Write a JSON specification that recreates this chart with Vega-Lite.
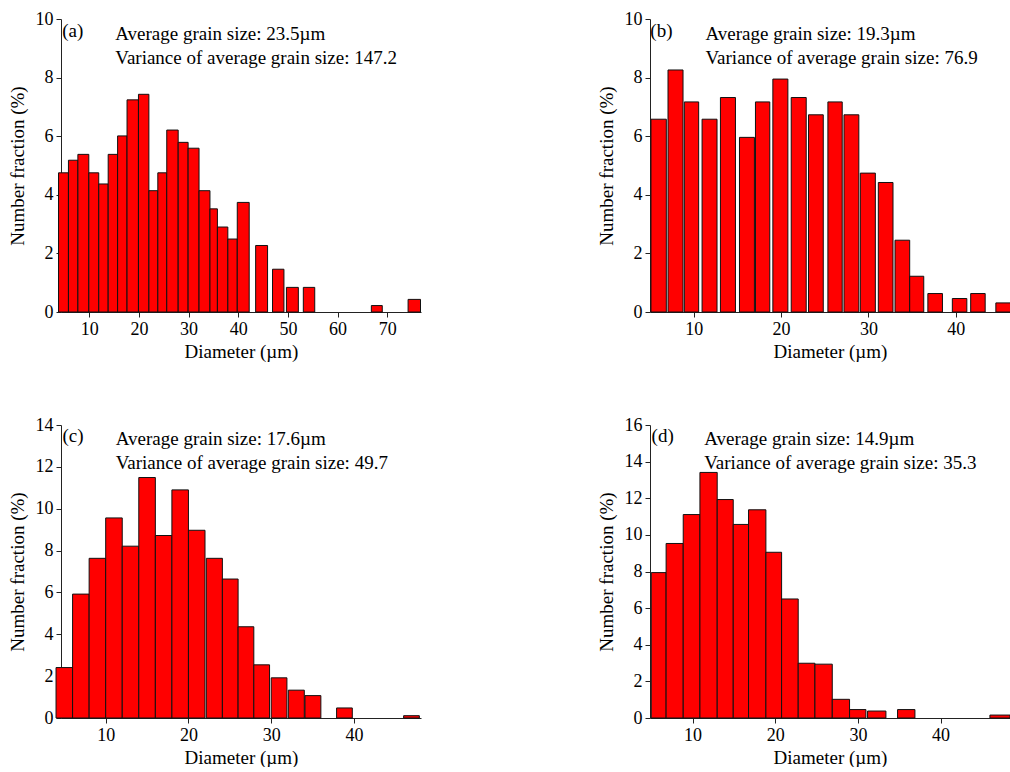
{
  "$schema": "https://vega.github.io/schema/vega-lite/v6.json",
  "padding": {"left": 8, "top": 10, "right": 0, "bottom": 0},
  "background": "white",
  "datasets": {
    "a": [
      {"x0": 3.8, "x1": 5.8, "pct": 4.75},
      {"x0": 5.8, "x1": 7.7, "pct": 5.18},
      {"x0": 7.7, "x1": 9.9, "pct": 5.38},
      {"x0": 9.9, "x1": 11.9, "pct": 4.75},
      {"x0": 11.9, "x1": 13.8, "pct": 4.37},
      {"x0": 13.8, "x1": 15.7, "pct": 5.38},
      {"x0": 15.7, "x1": 17.6, "pct": 6.01},
      {"x0": 17.6, "x1": 19.9, "pct": 7.24},
      {"x0": 19.9, "x1": 22.0, "pct": 7.43},
      {"x0": 22.0, "x1": 23.8, "pct": 4.14},
      {"x0": 23.8, "x1": 25.6, "pct": 4.75},
      {"x0": 25.6, "x1": 27.9, "pct": 6.21},
      {"x0": 27.9, "x1": 29.9, "pct": 5.79},
      {"x0": 29.9, "x1": 32.1, "pct": 5.59},
      {"x0": 32.1, "x1": 34.3, "pct": 4.14},
      {"x0": 34.3, "x1": 35.8, "pct": 3.52},
      {"x0": 35.8, "x1": 37.9, "pct": 2.90},
      {"x0": 37.9, "x1": 39.8, "pct": 2.49},
      {"x0": 39.8, "x1": 42.2, "pct": 3.74},
      {"x0": 43.5, "x1": 45.9, "pct": 2.27},
      {"x0": 46.9, "x1": 49.2, "pct": 1.46},
      {"x0": 49.7, "x1": 52.1, "pct": 0.84},
      {"x0": 53.1, "x1": 55.4, "pct": 0.84},
      {"x0": 66.8, "x1": 69.0, "pct": 0.22},
      {"x0": 74.2, "x1": 76.7, "pct": 0.43}
    ],
    "b": [
      {"x0": 5.11, "x1": 6.87, "pct": 6.58},
      {"x0": 7.06, "x1": 8.78, "pct": 8.26},
      {"x0": 8.93, "x1": 10.57, "pct": 7.17},
      {"x0": 10.96, "x1": 12.67, "pct": 6.58},
      {"x0": 13.06, "x1": 14.78, "pct": 7.32},
      {"x0": 15.24, "x1": 16.95, "pct": 5.96},
      {"x0": 17.07, "x1": 18.71, "pct": 7.17},
      {"x0": 19.06, "x1": 20.78, "pct": 7.95},
      {"x0": 21.16, "x1": 22.88, "pct": 7.32},
      {"x0": 23.14, "x1": 24.83, "pct": 6.73},
      {"x0": 25.36, "x1": 27.0, "pct": 7.17},
      {"x0": 27.2, "x1": 28.9, "pct": 6.73},
      {"x0": 29.07, "x1": 30.79, "pct": 4.74},
      {"x0": 31.13, "x1": 32.81, "pct": 4.42},
      {"x0": 33.04, "x1": 34.72, "pct": 2.45},
      {"x0": 34.72, "x1": 36.33, "pct": 1.22},
      {"x0": 36.8, "x1": 38.47, "pct": 0.63},
      {"x0": 39.6, "x1": 41.26, "pct": 0.46},
      {"x0": 41.7, "x1": 43.36, "pct": 0.63},
      {"x0": 44.58, "x1": 46.3, "pct": 0.31}
    ],
    "c": [
      {"x0": 4.0, "x1": 6.0, "pct": 2.41},
      {"x0": 6.0, "x1": 8.0, "pct": 5.92},
      {"x0": 8.0, "x1": 10.0, "pct": 7.63},
      {"x0": 10.0, "x1": 12.0, "pct": 9.56},
      {"x0": 12.0, "x1": 14.0, "pct": 8.21},
      {"x0": 14.0, "x1": 16.0, "pct": 11.49},
      {"x0": 16.0, "x1": 18.0, "pct": 8.72},
      {"x0": 18.0, "x1": 20.0, "pct": 10.9},
      {"x0": 20.0, "x1": 22.0, "pct": 8.97},
      {"x0": 22.16, "x1": 24.1, "pct": 7.63},
      {"x0": 24.1, "x1": 26.0, "pct": 6.64},
      {"x0": 26.0, "x1": 27.9, "pct": 4.36},
      {"x0": 27.9, "x1": 29.8, "pct": 2.54},
      {"x0": 30.0, "x1": 31.9, "pct": 1.92},
      {"x0": 32.07, "x1": 34.0, "pct": 1.33},
      {"x0": 34.08, "x1": 36.0, "pct": 1.07},
      {"x0": 37.9, "x1": 39.8, "pct": 0.48},
      {"x0": 46.0, "x1": 47.9, "pct": 0.11}
    ],
    "d": [
      {"x0": 5.0, "x1": 6.8, "pct": 7.94},
      {"x0": 6.8, "x1": 8.87, "pct": 9.53},
      {"x0": 8.87, "x1": 10.89, "pct": 11.11},
      {"x0": 10.89, "x1": 12.98, "pct": 13.41},
      {"x0": 12.98, "x1": 14.92, "pct": 11.93},
      {"x0": 14.92, "x1": 16.77, "pct": 10.57},
      {"x0": 16.77, "x1": 18.87, "pct": 11.37},
      {"x0": 18.87, "x1": 20.77, "pct": 9.05},
      {"x0": 20.77, "x1": 22.78, "pct": 6.5},
      {"x0": 22.78, "x1": 24.8, "pct": 2.99},
      {"x0": 24.8, "x1": 26.9, "pct": 2.94},
      {"x0": 26.9, "x1": 28.99, "pct": 1.02},
      {"x0": 28.99, "x1": 30.97, "pct": 0.46},
      {"x0": 31.17, "x1": 33.39, "pct": 0.38},
      {"x0": 34.8, "x1": 36.9, "pct": 0.46},
      {"x0": 45.97, "x1": 48.4, "pct": 0.16}
    ],
    "ta": [
      {"x": 4.56, "y": 9.4, "label": "(a)"},
      {"x": 15.23, "y": 9.3, "label": "Average grain size: 23.5µm"},
      {"x": 15.23, "y": 8.46, "label": "Variance of average grain size: 147.2"}
    ],
    "tb": [
      {"x": 5.04, "y": 9.4, "label": "(b)"},
      {"x": 11.35, "y": 9.3, "label": "Average grain size: 19.3µm"},
      {"x": 11.35, "y": 8.46, "label": "Variance of average grain size: 76.9"}
    ],
    "tc": [
      {"x": 4.77, "y": 13.2, "label": "(c)"},
      {"x": 11.21, "y": 13.04, "label": "Average grain size: 17.6µm"},
      {"x": 11.21, "y": 11.88, "label": "Variance of average grain size: 49.7"}
    ],
    "td": [
      {"x": 5.04, "y": 15.08, "label": "(d)"},
      {"x": 11.41, "y": 14.9, "label": "Average grain size: 14.9µm"},
      {"x": 11.41, "y": 13.57, "label": "Variance of average grain size: 35.3"}
    ]
  },
  "config": {
    "view": {"stroke": null},
    "font": "Liberation Serif, Times New Roman, serif",
    "axis": {
      "grid": false,
      "labelFont": "Liberation Serif, Times New Roman, serif",
      "labelFontSize": 18,
      "labelColor": "#000",
      "labelOverlap": false,
      "titleFont": "Liberation Serif, Times New Roman, serif",
      "titleFontSize": 19,
      "titleFontWeight": "normal",
      "titleColor": "#000",
      "domainColor": "#222",
      "tickColor": "#222",
      "tickSize": 5,
      "labelPadding": 3,
      "tickCount": 12
    },
    "axisY": {"titlePadding": 8},
    "axisX": {"titlePadding": 4},
    "text": {"font": "Liberation Serif, Times New Roman, serif", "fontSize": 19, "color": "#000", "align": "left", "baseline": "alphabetic"},
    "bar": {"fill": "#ff0000", "stroke": "#111", "strokeWidth": 1, "clip": true}
  },
  "columns": 2,
  "spacing": {"row": 113, "column": 229},
  "bounds": "flush",
  "concat": [
    {
      "width": 360, "height": 293,
      "layer": [
        {
          "data": {"name": "a"},
          "mark": {"type": "bar"},
          "encoding": {
            "x": {"field": "x0", "type": "quantitative", "scale": {"domain": [4.3, 76.8], "nice": false, "zero": false}, "axis": {"title": "Diameter (µm)", "values": [10, 20, 30, 40, 50, 60, 70], "labelOverlap": false}},
            "x2": {"field": "x1"},
            "y": {"field": "pct", "type": "quantitative", "scale": {"domain": [0, 10], "nice": false}, "axis": {"title": "Number fraction (%)", "values": [0, 2, 4, 6, 8, 10], "labelOverlap": false}},
            "y2": {"datum": 0}
          }
        },
        {
          "data": {"name": "ta"},
          "mark": {"type": "text"},
          "encoding": {
            "x": {"field": "x", "type": "quantitative"},
            "y": {"field": "y", "type": "quantitative"},
            "text": {"field": "label"}
          }
        }
      ]
    },
    {
      "width": 360, "height": 293,
      "layer": [
        {
          "data": {"name": "b"},
          "mark": {"type": "bar"},
          "encoding": {
            "x": {"field": "x0", "type": "quantitative", "scale": {"domain": [5, 46.2], "nice": false, "zero": false}, "axis": {"title": "Diameter (µm)", "values": [10, 20, 30, 40], "labelOverlap": false}},
            "x2": {"field": "x1"},
            "y": {"field": "pct", "type": "quantitative", "scale": {"domain": [0, 10], "nice": false}, "axis": {"title": "Number fraction (%)", "values": [0, 2, 4, 6, 8, 10], "labelOverlap": false}},
            "y2": {"datum": 0}
          }
        },
        {
          "data": {"name": "tb"},
          "mark": {"type": "text"},
          "encoding": {
            "x": {"field": "x", "type": "quantitative"},
            "y": {"field": "y", "type": "quantitative"},
            "text": {"field": "label"}
          }
        }
      ]
    },
    {
      "width": 360, "height": 293,
      "layer": [
        {
          "data": {"name": "c"},
          "mark": {"type": "bar"},
          "encoding": {
            "x": {"field": "x0", "type": "quantitative", "scale": {"domain": [4.6, 48.1], "nice": false, "zero": false}, "axis": {"title": "Diameter (µm)", "values": [10, 20, 30, 40], "labelOverlap": false}},
            "x2": {"field": "x1"},
            "y": {"field": "pct", "type": "quantitative", "scale": {"domain": [0, 14], "nice": false}, "axis": {"title": "Number fraction (%)", "values": [0, 2, 4, 6, 8, 10, 12, 14], "labelOverlap": false}},
            "y2": {"datum": 0}
          }
        },
        {
          "data": {"name": "tc"},
          "mark": {"type": "text"},
          "encoding": {
            "x": {"field": "x", "type": "quantitative"},
            "y": {"field": "y", "type": "quantitative"},
            "text": {"field": "label"}
          }
        }
      ]
    },
    {
      "width": 360, "height": 293,
      "layer": [
        {
          "data": {"name": "d"},
          "mark": {"type": "bar"},
          "encoding": {
            "x": {"field": "x0", "type": "quantitative", "scale": {"domain": [4.85, 48.4], "nice": false, "zero": false}, "axis": {"title": "Diameter (µm)", "values": [10, 20, 30, 40], "labelOverlap": false}},
            "x2": {"field": "x1"},
            "y": {"field": "pct", "type": "quantitative", "scale": {"domain": [0, 16], "nice": false}, "axis": {"title": "Number fraction (%)", "values": [0, 2, 4, 6, 8, 10, 12, 14, 16], "labelOverlap": false, "tickCount": 12}},
            "y2": {"datum": 0}
          }
        },
        {
          "data": {"name": "td"},
          "mark": {"type": "text"},
          "encoding": {
            "x": {"field": "x", "type": "quantitative"},
            "y": {"field": "y", "type": "quantitative"},
            "text": {"field": "label"}
          }
        }
      ]
    }
  ]
}
